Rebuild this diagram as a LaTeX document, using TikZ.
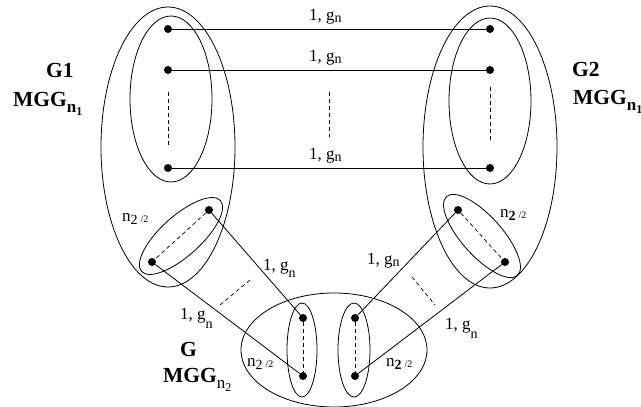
\documentclass[tikz,border=0pt]{standalone}
\usepackage{fontspec}
\setmainfont{Liberation Serif}
\newcommand{\lowsub}[2]{\raisebox{-#1pt}{\fontsize{14}{14}\selectfont #2}}
\newcommand{\halfsub}[1]{n\raisebox{-3pt}{\fontsize{14}{14}\selectfont #1}\,\raisebox{-1pt}{\fontsize{10}{10}\selectfont /2}}
\newcommand{\mggsub}[2]{MGG\raisebox{-6pt}{\fontsize{17}{17}\selectfont #1n\raisebox{-3pt}{\fontsize{12}{12}\selectfont #2}}}
\begin{document}
\begin{tikzpicture}[x=1pt,y=-1pt,
  dot/.style={circle,fill=black,inner sep=0pt,minimum size=8pt},
  edge/.style={line width=0.8pt},
  dashedge/.style={line width=0.7pt,dash pattern=on 4pt off 3pt},
  ring/.style={line width=0.8pt},
  lab/.style={font=\fontsize{17}{17}\selectfont,inner sep=0pt,anchor=base west},
  blab/.style={font=\fontsize{21.5}{21.5}\selectfont\bfseries,inner sep=0pt,anchor=base west}]
\useasboundingbox (0,0) rectangle (641,407);
% top dots
\node[dot] (a1) at (168,29) {};
\node[dot] (a2) at (168,70) {};
\node[dot] (a3) at (168,168) {};
\node[dot] (b1) at (490,29) {};
\node[dot] (b2) at (490,70) {};
\node[dot] (b3) at (490,168) {};
% small group dots
\node[dot] (l1) at (209,210) {};
\node[dot] (l2) at (152,262) {};
\node[dot] (r1) at (458,210) {};
\node[dot] (r2) at (505,262) {};
\node[dot] (g1) at (303,318) {};
\node[dot] (g2) at (303,376) {};
\node[dot] (h1) at (355,318) {};
\node[dot] (h2) at (355,376) {};
% ellipses
\draw[ring] (168,147) ellipse (67 and 140);
\draw[ring] (171,99) ellipse (41 and 83);
\draw[ring] (490,147) ellipse (67 and 141);
\draw[ring] (490,101) ellipse (41 and 83);
\draw[ring] (334,350) ellipse (93 and 57);
\draw[ring] (302,350) ellipse (15 and 47);
\draw[ring] (354,350) ellipse (16 and 47);
\draw[ring,rotate around={42:(181,236)}] (181,236) ellipse (53 and 20);
\draw[ring,rotate around={-48:(482,236)}] (482,236) ellipse (53 and 20);
% horizontal edges
\draw[edge] (a1) -- (b1);
\draw[edge] (a2) -- (b2);
\draw[edge] (a3) -- (b3);
% dashed verticals
\coordinate (d1) at (168,92); \coordinate (d2) at (168,145);
\coordinate (e1) at (490,87); \coordinate (e2) at (490,140);
\coordinate (m1) at (329,92); \coordinate (m2) at (329,137);
\draw[dashedge] (d1) -- (d2);
\draw[dashedge] (e1) -- (e2);
\draw[dashedge] (m1) -- (m2);
\draw[dashedge] (l1) -- (l2);
\draw[dashedge] (r1) -- (r2);
\draw[dashedge] (g1) -- (g2);
\draw[dashedge] (h1) -- (h2);
% cross edges
\draw[edge] (l1) -- (g1);
\draw[edge] (l2) -- (g2);
\draw[edge] (r1) -- (h1);
\draw[edge] (r2) -- (h2);
\coordinate (x1) at (250,280); \coordinate (x2) at (220,305);
\coordinate (y1) at (412,277); \coordinate (y2) at (435,305);
\draw[dashedge] (x1) -- (x2);
\draw[dashedge] (y1) -- (y2);
% edge labels
\node[lab] (s1) at (309,20) {1, g\lowsub{2}{n}};
\node[lab] (s2) at (309,61) {1, g\lowsub{2}{n}};
\node[lab] (s3) at (309,159) {1, g\lowsub{2}{n}};
\node[lab] (t1) at (263,270) {1, g\lowsub{7}{n}};
\node[lab] (t2) at (180,319) {1, g\lowsub{9}{n}};
\node[lab] (t3) at (367,264) {1, g\lowsub{2}{n}};
\node[lab] (t4) at (445,329) {1, g\lowsub{9}{n}};
% group size labels
\node[lab] (n1) at (122,221) {\halfsub{2}};
\node[lab] (n2) at (500,217) {\halfsub{\bfseries 2}};
\node[lab] (n3) at (247,366) {\halfsub{2}};
\node[lab] (n4) at (386,366) {\halfsub{\bfseries 2}};
% graph names
\node[blab] (G1) at (46,77) {G1};
\node[blab] (M1) at (13,106) {\mggsub{}{1}};
\node[blab] (G2) at (572,76) {G2};
\node[blab] (M2) at (573,104) {\mggsub{}{1}};
\node[blab] (G) at (180,356) {G};
\node[blab] (M3) at (163,382) {\mggsub{\mdseries}{2}};
\end{tikzpicture}
\end{document}
